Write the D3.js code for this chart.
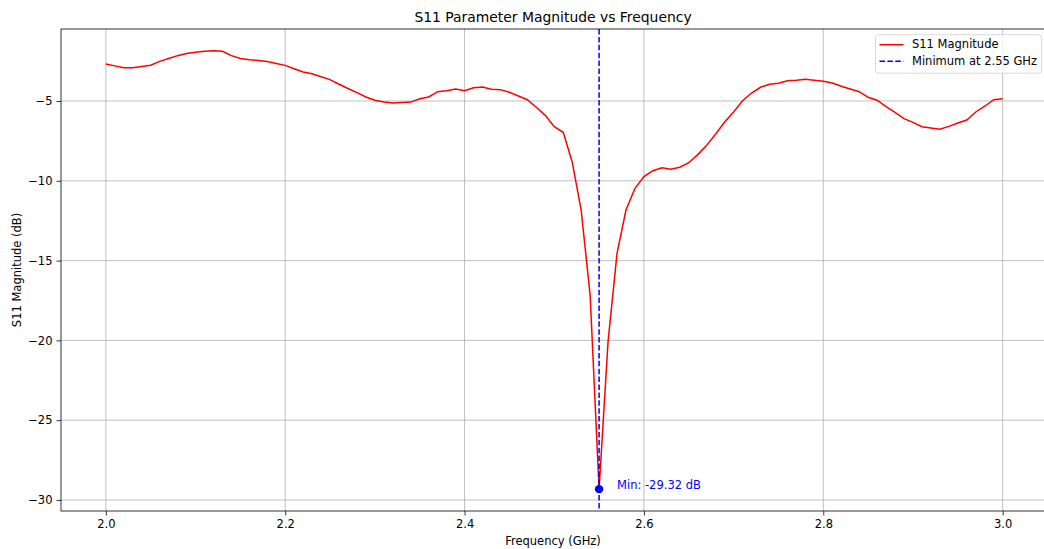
<!DOCTYPE html>
<html>
<head>
<meta charset="utf-8">
<script src="https://cdn.jsdelivr.net/npm/d3@7"></script>
<style>
  body { margin: 0; background: #fff; overflow: hidden; }
  svg text { font-family: "DejaVu Sans", sans-serif; fill: #000; }
</style>
</head>
<body>
<svg id="chart" width="1044" height="549"></svg>
<script>
var freqs = d3.range(0, 101).map(function(i) { return +(2 + i * 0.01).toFixed(2); });
var s11 = [
  -2.68, -2.80, -2.92, -2.92, -2.84, -2.76, -2.52, -2.34, -2.16, -2.02,
  -1.94, -1.88, -1.85, -1.89, -2.16, -2.34, -2.41, -2.46, -2.53, -2.65,
  -2.77, -2.98, -3.18, -3.30, -3.48, -3.66, -3.95, -4.22, -4.48, -4.75,
  -4.95, -5.06, -5.13, -5.10, -5.07, -4.86, -4.75, -4.42, -4.36, -4.25,
  -4.36, -4.17, -4.12, -4.27, -4.29, -4.45, -4.69, -4.92, -5.39, -5.90,
  -6.61, -6.96, -8.82, -11.83, -17.16, -29.32, -20.08, -14.55, -11.83, -10.47,
  -9.74, -9.37, -9.18, -9.27, -9.15, -8.87, -8.36, -7.78, -7.07, -6.32,
  -5.69, -4.98, -4.50, -4.14, -3.95, -3.89, -3.73, -3.70, -3.64, -3.70,
  -3.77, -3.87, -4.08, -4.25, -4.42, -4.77, -4.95, -5.35, -5.71, -6.11,
  -6.34, -6.61, -6.69, -6.77, -6.59, -6.38, -6.19, -5.69, -5.33, -4.92,
  -4.86
];
var xTicks = [2.0, 2.2, 2.4, 2.6, 2.8, 3.0];
var yTicks = [-5, -10, -15, -20, -25, -30];
var minIdx = d3.minIndex(s11);
var minFreq = freqs[minIdx];
var minVal = s11[minIdx];

// axes box runs a little past the right edge of the picture
var plot = { left: 61, right: 1047.5, top: 29, bottom: 511 };
var svg = d3.select('#chart');
var x = d3.scaleLinear().domain([1.95, 3.05]).range([plot.left, plot.right]);
var y = d3.scaleLinear().domain([-30.69, -0.49]).range([plot.bottom, plot.top]);

// grid
var grid = svg.append('g').attr('stroke', '#b0b0b0').attr('stroke-width', 0.8);
grid.selectAll('.gx').data(xTicks).enter().append('line')
  .attr('x1', function(d) { return x(d); }).attr('x2', function(d) { return x(d); })
  .attr('y1', plot.top).attr('y2', plot.bottom);
grid.selectAll('.gy').data(yTicks).enter().append('line')
  .attr('y1', function(d) { return y(d); }).attr('y2', function(d) { return y(d); })
  .attr('x1', plot.left).attr('x2', plot.right);

// curve
var line = d3.line()
  .x(function(d, i) { return x(freqs[i]); })
  .y(function(d) { return y(d); });
svg.append('path').datum(s11)
  .attr('d', line)
  .attr('fill', 'none')
  .attr('stroke', '#ff0000')
  .attr('stroke-width', 1.5);

// minimum marker
svg.append('line')
  .attr('x1', x(minFreq)).attr('x2', x(minFreq))
  .attr('y1', plot.top).attr('y2', plot.bottom)
  .attr('stroke', '#0000ff').attr('stroke-width', 1.5)
  .attr('stroke-dasharray', '5.5,2.4');
svg.append('circle')
  .attr('cx', x(minFreq)).attr('cy', y(minVal)).attr('r', 4.2)
  .attr('fill', '#0000ff');
svg.append('text')
  .attr('x', x(minFreq + 0.02)).attr('y', y(minVal))
  .style('font-size', '11.5px').style('fill', '#0000ff')
  .text('Min: ' + minVal.toFixed(2) + ' dB');

// axes
var xAxis = svg.append('g')
  .attr('transform', 'translate(0,' + plot.bottom + ')')
  .call(d3.axisBottom(x).tickValues(xTicks).tickFormat(d3.format('.1f')).tickSizeOuter(0).tickSize(4.5).tickPadding(4));
var yAxis = svg.append('g')
  .attr('transform', 'translate(' + plot.left + ',0)')
  .call(d3.axisLeft(y).tickValues(yTicks).tickFormat(function(d) { return '\u2212' + Math.abs(d); }).tickSizeOuter(0).tickSize(4.5).tickPadding(4));
[xAxis, yAxis].forEach(function(a) {
  a.select('.domain').remove();
  a.selectAll('text').style('font-size', '11.5px').attr('font-family', null);
  a.selectAll('line').attr('stroke', '#000').attr('stroke-width', 0.8);
});

// frame
svg.append('rect')
  .attr('x', plot.left).attr('y', plot.top)
  .attr('width', plot.right - plot.left)
  .attr('height', plot.bottom - plot.top)
  .attr('fill', 'none').attr('stroke', '#000').attr('stroke-width', 0.8);

// labels
svg.append('text').attr('x', 553).attr('y', 22)
  .style('text-anchor', 'middle').style('font-size', '13.9px')
  .text('S11 Parameter Magnitude vs Frequency');
svg.append('text').attr('x', 553).attr('y', 545)
  .style('text-anchor', 'middle').style('font-size', '11.5px')
  .text('Frequency (GHz)');
svg.append('text')
  .attr('transform', 'translate(21,' + ((plot.top + plot.bottom) / 2) + ') rotate(-90)')
  .style('text-anchor', 'middle').style('font-size', '11.5px')
  .text('S11 Magnitude (dB)');

// legend
var legend = svg.append('g').attr('transform', 'translate(875.5,34.7)');
legend.append('rect').attr('width', 166).attr('height', 38.5).attr('rx', 3)
  .attr('fill', '#fff').attr('fill-opacity', 0.8).attr('stroke', '#d0d0d0').attr('stroke-width', 0.8);
var legendItems = [
  { label: 'S11 Magnitude', color: '#ff0000', dash: null },
  { label: 'Minimum at ' + minFreq.toFixed(2) + ' GHz', color: '#0000ff', dash: '5.5,2.4' }
];
legendItems.forEach(function(d, i) {
  var ly = 10 + i * 16.6;
  legend.append('line').attr('x1', 4).attr('x2', 28).attr('y1', ly).attr('y2', ly)
    .attr('stroke', d.color).attr('stroke-width', 1.5).attr('stroke-dasharray', d.dash);
  legend.append('text').attr('x', 36.5).attr('y', ly).style('dominant-baseline', 'middle')
    .style('font-size', '11.5px').text(d.label);
});
</script>
</body>
</html>
